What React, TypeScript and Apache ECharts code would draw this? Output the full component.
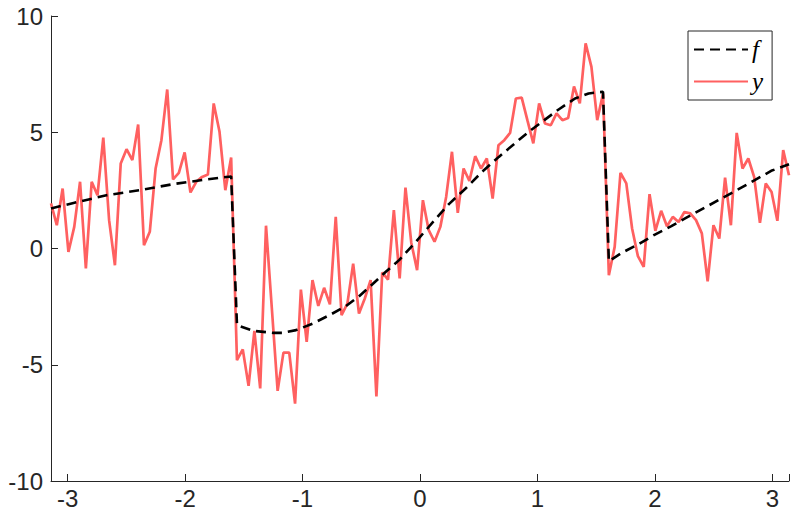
import React, { useEffect, useRef } from "react";
import * as echarts from "echarts";

const N = 128;
const xs: number[] = Array.from({ length: N }, (_, i) => -Math.PI + (2 * Math.PI * i) / (N - 1));

const yValues: number[] = [
  1.94, 1.0, 2.58, -0.15, 0.93, 2.87, -0.86, 2.87, 2.29, 4.77,
  1.22, -0.72, 3.66, 4.27, 3.8, 5.33, 0.14, 0.72, 3.44, 4.66,
  6.84, 2.97, 3.25, 4.13, 2.41, 2.87, 3.08, 3.18, 6.24, 5.02,
  2.51, 3.91, -4.8, -4.34, -5.91, -3.54, -6.02, 0.98, -2.56, -6.12,
  -4.48, -4.48, -6.67, -1.77, -4.02, -1.36, -2.47, -1.69, -2.4, 1.36,
  -2.87, -2.37, -0.65, -2.8, -2.15, -1.36, -6.36, -1.03, -1.34, 1.65,
  -1.29, 2.62, 0.25, -0.93, 2.08, 0.79, 0.29, 0.93, 2.22, 4.16,
  1.53, 3.44, 2.91, 3.97, 3.44, 3.87, 2.15, 4.44, 4.66, 4.97,
  6.45, 6.49, 5.5, 4.52, 6.24, 5.38, 5.3, 5.81, 5.52, 5.61,
  6.97, 6.24, 8.82, 7.81, 5.52, 6.67, -1.15, 0.07, 3.25, 2.8,
  0.86, -0.33, -0.79, 2.34, 0.76, 1.62, 0.96, 1.36, 1.14, 1.57,
  1.51, 1.22, 0.65, -1.41, 1.0, 0.43, 3.05, 1.0, 4.97, 3.44,
  3.87, 3.08, 1.1, 2.8, 2.43, 1.19, 4.23, 3.15,
];

const fX: number[] = [
  -3.1416, -2.95, -2.67, -2.385, -2.1, -1.82, -1.608, -1.558, -1.42, -1.25,
  -1.17, -1.055, -0.914, -0.772, -0.631, -0.518, -0.405, -0.291, -0.178, -0.037,
  0.104, 0.246, 0.388, 0.529, 0.671, 0.812, 0.925, 1.18, 1.32, 1.435,
  1.558, 1.608, 1.717, 1.859, 2.0, 2.14, 2.28, 2.425, 2.566, 2.708,
  2.85, 2.99, 3.1416,
];
const fValues: number[] = [
  1.72, 1.96, 2.29, 2.51, 2.77, 2.97, 3.1, -3.3, -3.54, -3.63,
  -3.63, -3.51, -3.23, -2.87, -2.48, -2.05, -1.54, -1.0, -0.5, 0.28,
  1.1, 1.91, 2.58, 3.3, 3.94, 4.54, 5.02, 5.98, 6.45, 6.67,
  6.74, -0.55, -0.19, 0.18, 0.6, 0.96, 1.36, 1.76, 2.15, 2.54,
  2.94, 3.34, 3.62,
];

const yTicks = { min: -10, max: 10, interval: 5 };

const axisColor = "#262626";
const redColor = "#ff6060";

export default function App() {
  const ref = useRef<HTMLDivElement>(null);
  useEffect(() => {
    if (!ref.current) return;
    const chart = echarts.init(ref.current, undefined, { renderer: "svg" });
    const labelStyle = {
      fontSize: 24,
      fontFamily: "Liberation Sans",
      color: axisColor,
    };
    chart.setOption({
      animation: false,
      backgroundColor: "#ffffff",
      grid: { left: 51, right: 4, top: 16, bottom: 34, containLabel: false },
      xAxis: {
        type: "value",
        min: -Math.PI,
        max: Math.PI,
        axisLine: { onZero: false, lineStyle: { color: axisColor, width: 1 } },
        axisTick: { inside: true, length: 7, lineStyle: { color: axisColor } },
        axisLabel: {
          ...labelStyle,
          margin: 5,
          formatter: (v: number) =>
            Math.abs(v - Math.round(v)) < 1e-6 ? String(Math.round(v)) : "",
        },
        splitLine: { show: false },
      },
      yAxis: {
        type: "value",
        min: yTicks.min,
        max: yTicks.max,
        interval: yTicks.interval,
        axisLine: { show: true, onZero: false, lineStyle: { color: axisColor, width: 1 } },
        axisTick: { show: true, inside: true, length: 7, lineStyle: { color: axisColor } },
        axisLabel: { ...labelStyle, margin: 8 },
        splitLine: { show: false },
      },
      legend: {
        data: ["f", "y"],
        orient: "vertical",
        left: 688,
        top: 31,
        backgroundColor: "#ffffff",
        borderColor: axisColor,
        borderWidth: 1,
        borderRadius: 0,
        padding: [6, 9, 6, 5],
        itemWidth: 54,
        itemHeight: 14,
        itemGap: 7,
        itemStyle: { opacity: 0 },
        textStyle: {
          fontFamily: "Liberation Serif",
          fontStyle: "italic",
          fontSize: 25,
          lineHeight: 24,
          color: "#000000",
          padding: [0, 0, 0, -1],
        },
      },
      series: [
        {
          name: "y",
          type: "line",
          data: xs.map((x, i) => [x, yValues[i]]),
          symbol: "none",
          color: redColor,
          lineStyle: { color: redColor, width: 2.7 },
          z: 2,
        },
        {
          name: "f",
          type: "line",
          data: fX.map((x, i) => [x, fValues[i]]),
          symbol: "none",
          color: "#000000",
          lineStyle: { color: "#000000", width: 2.6, type: [10, 6] },
          z: 3,
        },
      ],
    });
    return () => chart.dispose();
  }, []);
  return (
    <div
      ref={ref}
      style={{ position: "fixed", left: 0, top: 0, width: 793, height: 515 }}
    />
  );
}
